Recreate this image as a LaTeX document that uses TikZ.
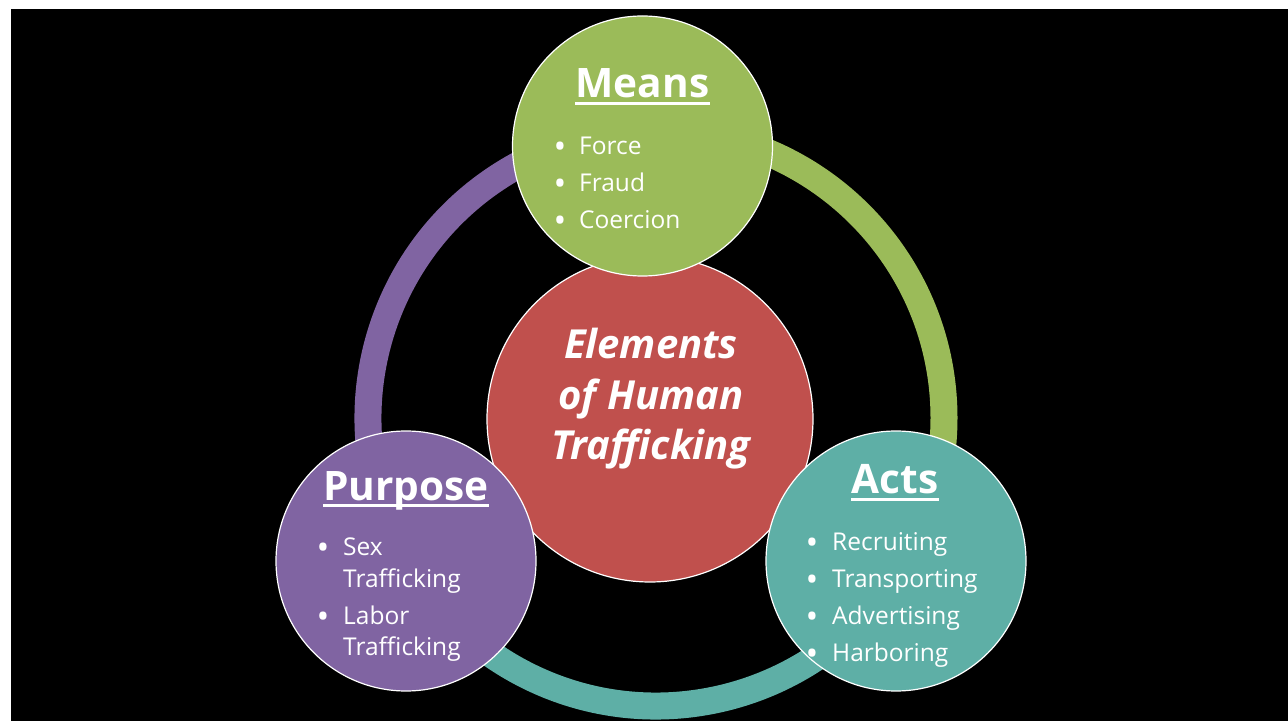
\documentclass[tikz,border=0pt]{standalone}
\usepackage{fontspec}
\setmainfont{Open Sans}
\usepackage{xcolor}
\definecolor{meansgreen}{HTML}{9BBB59}
\definecolor{actsteal}{HTML}{5EAFA6}
\definecolor{purposeviolet}{HTML}{8064A2}
\definecolor{corered}{HTML}{C0504D}
\tikzset{element/.style={circle, draw=white, line width=1.2pt,
minimum size=260pt, inner sep=0pt},
band/.style={line width=27pt},
heading/.style={text=white, inner sep=0pt, anchor=base,
font=\fontsize{40.6}{48}\selectfont\bfseries},
title/.style={text=white, inner sep=0pt, anchor=base,
font=\fontsize{40}{48}\selectfont\bfseries\itshape},
item/.style={text=white, inner sep=0pt, anchor=base west,
font=\fontsize{24.5}{30}\selectfont},
dot/.style={item, anchor=base, yshift=-4pt,
font=\fontsize{34}{40}\selectfont}}

\begin{document}
\begin{tikzpicture}[x=1pt, y=1pt]
	\useasboundingbox (0,0) rectangle (1288,721);
	\fill[white] (0,0) rectangle (1288,721);
	\fill[black] (11,0) rectangle (1288,712);
	% ring behind the circles
	\coordinate (hub) at (656,303);
	\draw[band, meansgreen] ([shift={(90:288)}]hub) arc[start angle=90, end angle=-30, radius=288];
	\draw[band, actsteal] ([shift={(-30:288)}]hub) arc[start angle=-30, end angle=-150, radius=288];
	\draw[band, purposeviolet] ([shift={(210:288)}]hub) arc[start angle=210, end angle=90, radius=288];
	% circles
	\node[element, fill=corered, minimum size=326pt] (core) at (650,302) {};
	\node[element, fill=meansgreen] (means) at (642.5,575) {};
	\node[element, fill=actsteal] (acts) at (896,160) {};
	\node[element, fill=purposeviolet] (purpose) at (406,160) {};
	% centre
	\foreach \word/\y [count=\i] in {Elements/362.7, of Human/311, Trafficking/261}
		\node[title] (core-\i) at (651,\y) {\word};
	% headings
	\node[heading] (means-head) at (642.5,623) {Means};
	\node[heading] (acts-head) at (895,227) {Acts};
	\node[heading] (purpose-head) at (406,221) {Purpose};
	\foreach \h in {means-head, acts-head, purpose-head}
		\draw[white, line width=3pt] ([yshift=-5.5pt]\h.base west) -- ([yshift=-5.5pt]\h.base east);
	% bullets
	\foreach \txt/\y [count=\i] in {Force/566, Fraud/529, Coercion/492} {
		\node[dot] (means-dot-\i) at (560,\y) {•};
		\node[item] (means-item-\i) at (579,\y) {\txt};
	}
	\foreach \txt/\y [count=\i] in {Recruiting/171, Transporting/134, Advertising/97, Harboring/60} {
		\node[dot] (acts-dot-\i) at (812,\y) {•};
		\node[item] (acts-item-\i) at (832,\y) {\txt};
	}
	\foreach \txt/\y [count=\i] in {Sex/166, Trafficking/134, Labor/97, Trafficking/66}
		\node[item] (purpose-item-\i) at (343,\y) {\txt};
	\foreach \y [count=\i] in {166, 97}
		\node[dot] (purpose-dot-\i) at (323,\y) {•};
\end{tikzpicture}
\end{document}
